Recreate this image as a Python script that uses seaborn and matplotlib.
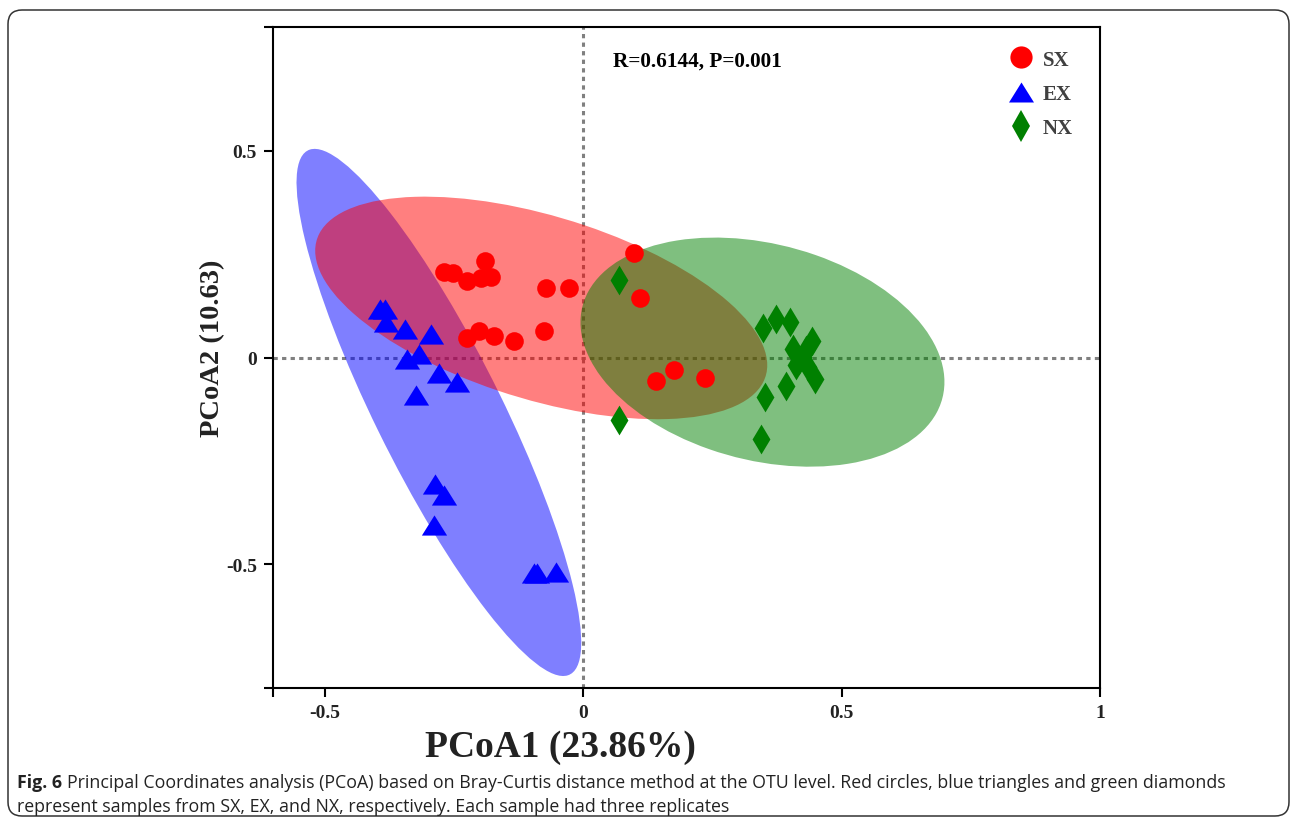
import numpy as np
import pandas as pd
import seaborn as sns
import matplotlib
matplotlib.use('Agg')
import matplotlib.pyplot as plt
from matplotlib.patches import Ellipse, FancyBboxPatch
from matplotlib.lines import Line2D
from matplotlib import font_manager

# PCoA scores
sx_x = [-0.269, -0.251, -0.224, -0.189, -0.197, -0.179, -0.071, -0.028, -0.225,
        -0.201, -0.172, -0.134, -0.075, 0.099, 0.111, 0.142, 0.176, 0.236]
sx_y = [0.208, 0.205, 0.186, 0.233, 0.192, 0.194, 0.168, 0.168, 0.048,
        0.065, 0.051, 0.041, 0.064, 0.253, 0.143, -0.058, -0.031, -0.050]

ex_x = [-0.392, -0.383, -0.381, -0.345, -0.295, -0.341, -0.317, -0.278, -0.243,
        -0.323, -0.286, -0.269, -0.288, -0.095, -0.089, -0.053]
ex_y = [0.117, 0.117, 0.087, 0.070, 0.057, -0.004, 0.009, -0.038, -0.060,
        -0.090, -0.307, -0.333, -0.405, -0.521, -0.521, -0.520]

nx_x = [0.070, 0.069, 0.348, 0.374, 0.400, 0.443, 0.406, 0.425, 0.412,
        0.435, 0.448, 0.393, 0.351, 0.344, 0.432, 0.418]
nx_y = [0.188, -0.152, 0.072, 0.094, 0.085, 0.039, 0.021, 0.001, -0.019,
        -0.023, -0.051, -0.068, -0.096, -0.197, 0.017, -0.007]

groups = ['SX', 'EX', 'NX']
colors = {'SX': '#FF0000', 'EX': '#0000FF', 'NX': '#008000'}

# confidence ellipses: centre x, centre y, width, height, angle (data units)
ell_center = {'SX': (-0.081, 0.120), 'EX': (-0.279, -0.133), 'NX': (0.347, 0.013)}
ell_width = {'SX': 0.931, 'EX': 1.367, 'NX': 0.735}
ell_height = {'SX': 0.434, 'EX': 0.251, 'NX': 0.513}
ell_angle = {'SX': -22.8, 'EX': -68.6, 'NX': -23.6}

xticks = [-0.6, -0.5, 0, 0.5, 1]
xticklabels = ['', '-0.5', '0', '0.5', '1']
yticks = [-0.8, -0.5, 0, 0.5, 0.8]
yticklabels = ['', '-0.5', '0', '0.5', '']

df = pd.concat([
    pd.DataFrame({'PCoA1': sx_x, 'PCoA2': sx_y, 'group': 'SX'}),
    pd.DataFrame({'PCoA1': ex_x, 'PCoA2': ex_y, 'group': 'EX'}),
    pd.DataFrame({'PCoA1': nx_x, 'PCoA2': nx_y, 'group': 'NX'}),
])

sns.set_style('ticks')
serif = 'Liberation Serif'
names = {f.name for f in font_manager.fontManager.ttflist}
cap_font = 'Liberation Sans Narrow' if 'Liberation Sans Narrow' in names else 'Open Sans'
plt.rcParams['font.family'] = [serif, 'DejaVu Serif']

tri = [(-1, -0.8), (1, -0.8), (0, 0.8)]
markers = {'SX': 'o', 'EX': tri, 'NX': 'd'}
sizes = {'SX': 180, 'EX': 330, 'NX': 230}

fig = plt.figure(figsize=(12.9, 8.29), dpi=100)
ax = fig.add_axes([0.2116, 0.1689, 0.6411, 0.7973])

# reference lines under the ellipses
ax.axhline(0, color='#808080', lw=2.2, ls=(0, (1.4, 1.4)), zorder=1)
ax.axvline(0, color='#808080', lw=2.2, ls=(0, (1.4, 1.4)), zorder=1)

for g, z in [('EX', 2), ('SX', 2.1), ('NX', 2.2)]:
    e = Ellipse(ell_center[g], ell_width[g], ell_height[g], angle=ell_angle[g],
                facecolor=colors[g], alpha=0.5, edgecolor='none', zorder=z)
    ax.add_patch(e)

for g in groups:
    sub = df[df['group'] == g]
    sns.scatterplot(data=sub, x='PCoA1', y='PCoA2', color=colors[g], marker=markers[g],
                    s=sizes[g], linewidth=0, ax=ax, zorder=3, legend=False)

ax.set_xlim(-0.6, 1.0)
ax.set_ylim(-0.8, 0.8)
ax.set_xticks(xticks)
ax.set_xticklabels(xticklabels)
ax.set_yticks(yticks)
ax.set_yticklabels(yticklabels)
for sp in ax.spines.values():
    sp.set_linewidth(1.5)
    sp.set_color('black')
ax.tick_params(direction='out', length=6.5, width=1.5, pad=5, colors='black')
for lab in ax.get_xticklabels() + ax.get_yticklabels():
    lab.set_fontsize(14)
    lab.set_fontweight('bold')
    lab.set_color('#222222')

ax.set_xlabel('PCoA1 (23.86%)', fontsize=27, fontweight='bold', color='#222222')
ax.set_ylabel('PCoA2 (10.63)', fontsize=20.5, fontweight='bold', color='#222222')
ax.xaxis.set_label_coords(0.347, -0.062)
ax.yaxis.set_label_coords(-0.058, 0.516)

ax.text(0.058, 0.719, 'R=0.6144, P=0.001', fontsize=15.3, fontweight='bold',
        ha='left', va='center', color='black')

handles = [
    Line2D([], [], ls='none', marker='o', color=colors['SX'], markersize=16, markeredgewidth=0),
    Line2D([], [], ls='none', marker=tri, color=colors['EX'], markersize=18, markeredgewidth=0),
    Line2D([], [], ls='none', marker='d', color=colors['NX'], markersize=16, markeredgewidth=0),
]
leg = ax.legend(handles, groups, loc='upper right', bbox_to_anchor=(0.99, 0.994),
                frameon=False, handlelength=1.0, handletextpad=0.55, labelspacing=0.68,
                prop={'family': serif, 'weight': 'bold', 'size': 15})
for t in leg.get_texts():
    t.set_color('#404040')

# caption and rounded frame
box = FancyBboxPatch((8, 12), 1281, 806, boxstyle='round,pad=0,rounding_size=14',
                     transform=None, fill=False, lw=1.1, ec='#333333')
fig.add_artist(box)

renderer = fig.canvas.get_renderer()
t1 = fig.text(17 / 1290, 1 - 783 / 829, 'Fig. 6', fontsize=12.8, fontweight='bold',
              family=cap_font, va='center', ha='left', color='#222222')
bb = t1.get_window_extent(renderer)
fig.text((bb.x1 + 5) / 1290, 1 - 783 / 829,
         'Principal Coordinates analysis (PCoA) based on Bray-Curtis distance method at the OTU level. '
         'Red circles, blue triangles and green diamonds',
         fontsize=12.8, family=cap_font, va='center', ha='left', color='#222222')
fig.text(17 / 1290, 1 - 807 / 829,
         'represent samples from SX, EX, and NX, respectively. Each sample had three replicates',
         fontsize=12.8, family=cap_font, va='center', ha='left', color='#222222')

fig.savefig('out.png', dpi=100)
